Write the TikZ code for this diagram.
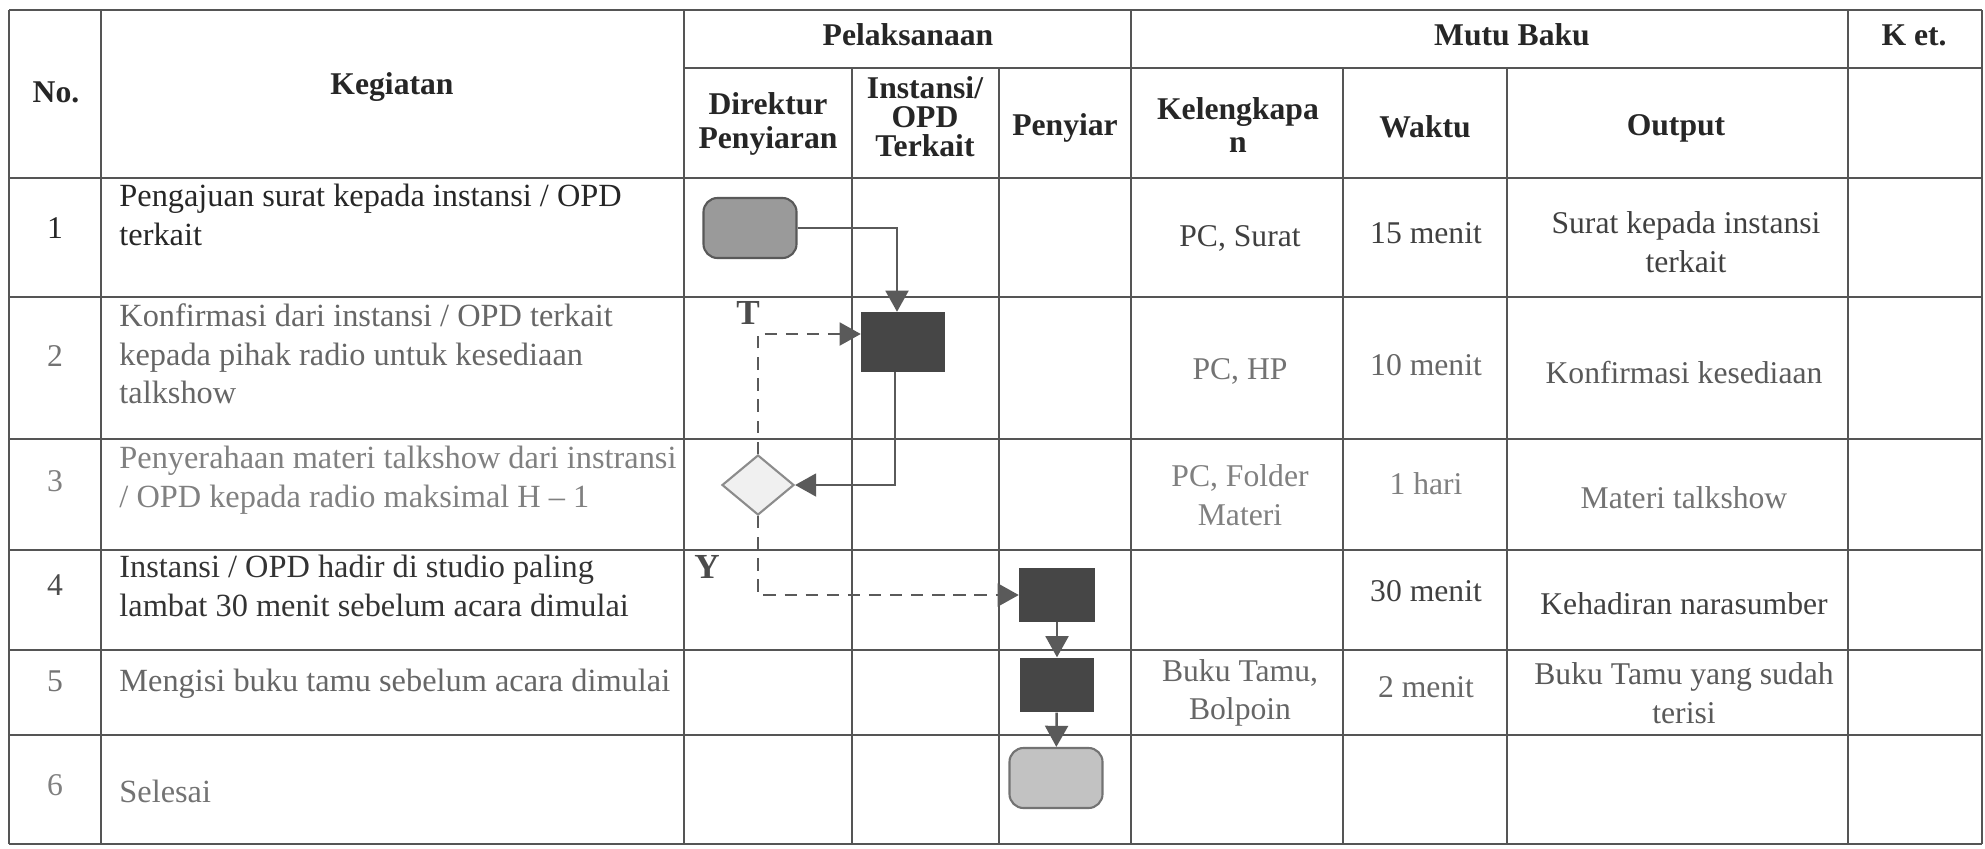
\documentclass[tikz,border=0pt]{standalone}
\usepackage{fontspec}
\setmainfont{Liberation Serif}
\definecolor{gridgray}{HTML}{555555}
\definecolor{boxdark}{HTML}{464646}
\definecolor{boxmid}{HTML}{9A9A9A}
\definecolor{boxlight}{HTML}{C2C2C2}
\definecolor{arrowgray}{HTML}{5A5A5A}
\usetikzlibrary{shapes.geometric,arrows.meta,positioning}

\begin{document}
\begin{tikzpicture}[x=0.01cm, y=-0.01cm,
  font=\fontsize{9}{11}\selectfont,
  grid/.style={gridgray, line width=0.5pt},
  head/.style={font=\fontsize{9}{9.5}\selectfont\bfseries, align=center, text=black!85},
  cell/.style={align=center, text=black!75},
  task/.style={align=left, anchor=west, text=black!75, font=\fontsize{9.2}{11}\selectfont},
  num/.style={text=black!70},
  terminal/.style={rectangle, rounded corners=4pt, minimum width=0.93cm, minimum height=0.6cm, draw=black!65, line width=0.6pt, fill=boxmid},
  process/.style={rectangle, minimum width=0.83cm, minimum height=0.59cm, fill=boxdark},
  decision/.style={diamond, minimum width=0.72cm, minimum height=0.6cm, inner sep=0pt, draw=black!45, line width=0.6pt, fill=black!6},
  flow/.style={arrowgray, line width=0.7pt, -{Triangle[width=6.5pt,length=6pt]}},
  choice/.style={dash pattern=on 3.5pt off 2.5pt},
  lbl/.style={font=\fontsize{10}{10}\selectfont\bfseries, text=black!70}]
  \useasboundingbox (0,0) rectangle (1985,848);

  % Table grid
  \foreach \x in {9,101,684,1131,1848,1982}
    \draw[grid] (\x,10) -- (\x,844);
  \foreach \x in {852,999,1343,1507}
    \draw[grid] (\x,68) -- (\x,844);
  \draw[grid] (9,10) -- (1982,10);
  \draw[grid] (684,68) -- (1982,68);
  \foreach \y in {178,297,439,550,650,735,844}
    \draw[grid] (9,\y) -- (1982,\y);

  % Header
  \node[head] (hno) at (56,92) {No.};
  \node[head] (hkeg) at (392,87) {Kegiatan};
  \node[head] (hpel) at (908,35) {Pelaksanaan};
  \node[head] (hmutu) at (1512,35) {Mutu Baku};
  \node[head] (hket) at (1914,35) {K et.};
  \node[head] (hdir) at (768,124) {Direktur\\Penyiaran};
  \node[head, font=\fontsize{9}{8.2}\selectfont\bfseries] (hins) at (925,117) {Instansi/\\OPD\\Terkait};
  \node[head] (hpen) at (1065,128) {Penyiar};
  \node[head] (hkel) at (1238,125) {Kelengkapa\\n};
  \node[head] (hwak) at (1425,127) {Waktu};
  \node[head] (hout) at (1676,128) {Output};

  % No.
  \node[num, text=black!85] (no1) at (55,228) {1};
  \node[num, text=black!55] (no2) at (55,356) {2};
  \node[num, text=black!50] (no3) at (55,481) {3};
  \node[num] (no4) at (55,585) {4};
  \node[num, text=black!55] (no5) at (55,681) {5};
  \node[num, text=black!50] (no6) at (55,785) {6};

  % Kegiatan
  \node[task, text=black!85] (keg1) at (107,215) {Pengajuan surat kepada instansi / OPD\\terkait};
  \node[task, text=black!60] (keg2) at (107,354) {Konfirmasi dari instansi / OPD terkait\\kepada pihak radio untuk kesediaan\\talkshow};
  \node[task, text=black!50] (keg3) at (107,480) {Penyerahaan materi talkshow dari instransi\\/ OPD kepada radio maksimal H -- 1};
  \node[task, text=black!80] (keg4) at (107,586) {Instansi / OPD hadir di studio paling\\lambat 30 menit sebelum acara dimulai};
  \node[task, text=black!60] (keg5) at (107,684) {Mengisi buku tamu sebelum acara dimulai};
  \node[task, text=black!55] (keg6) at (107,791) {Selesai};

  % Mutu baku
  \node[cell] (kel1) at (1240,238) {PC, Surat};
  \node[cell] (wak1) at (1426,233) {15 menit};
  \node[cell] (out1) at (1686,242) {Surat kepada instansi\\terkait};
  \node[cell, text=black!55] (kel2) at (1240,371) {PC, HP};
  \node[cell, text=black!60] (wak2) at (1426,365) {10 menit};
  \node[cell, text=black!65] (out2) at (1684,373) {Konfirmasi kesediaan};
  \node[cell, text=black!50] (kel3) at (1240,495) {PC, Folder\\Materi};
  \node[cell, text=black!50] (wak3) at (1426,484) {1 hari};
  \node[cell, text=black!55] (out3) at (1684,498) {Materi talkshow};
  \node[cell] (wak4) at (1426,591) {30 menit};
  \node[cell] (out4) at (1684,604) {Kehadiran narasumber};
  \node[cell, text=black!60] (kel5) at (1240,693) {Buku Tamu,\\Bolpoin};
  \node[cell, text=black!60] (wak5) at (1426,687) {2 menit};
  \node[cell, text=black!65] (out5) at (1684,693) {Buku Tamu yang sudah\\terisi};

  % Flow
  \node[terminal] (mulai) at (750,228) {};
  \node[process] (konfirmasi) at (903,342) {};
  \node[decision] (cek) at (758,485) {};
  \node[process, minimum width=0.75cm, minimum height=0.53cm] (hadir) at (1057,595) {};
  \node[process, minimum width=0.73cm, minimum height=0.54cm] (bukutamu) at (1057,685) {};
  \node[terminal, fill=boxlight, draw=black!55] (selesai) at (1056,778) {};

  \draw[flow] (mulai.east) -| ([xshift=-0.06cm]konfirmasi.north);
  \draw[flow] ([xshift=-0.08cm]konfirmasi.south) |- (cek.east);
  \draw[flow, choice] (cek.north) |- ([yshift=0.08cm]konfirmasi.west);
  \draw[flow, choice] (cek.south) |- (hadir.west);
  \draw[flow] (hadir) -- (bukutamu);
  \draw[flow] (bukutamu) -- (selesai);
  \node[lbl] (tidak) at (748,313) {T};
  \node[lbl] (ya) at (707,567) {Y};
\end{tikzpicture}
\end{document}
